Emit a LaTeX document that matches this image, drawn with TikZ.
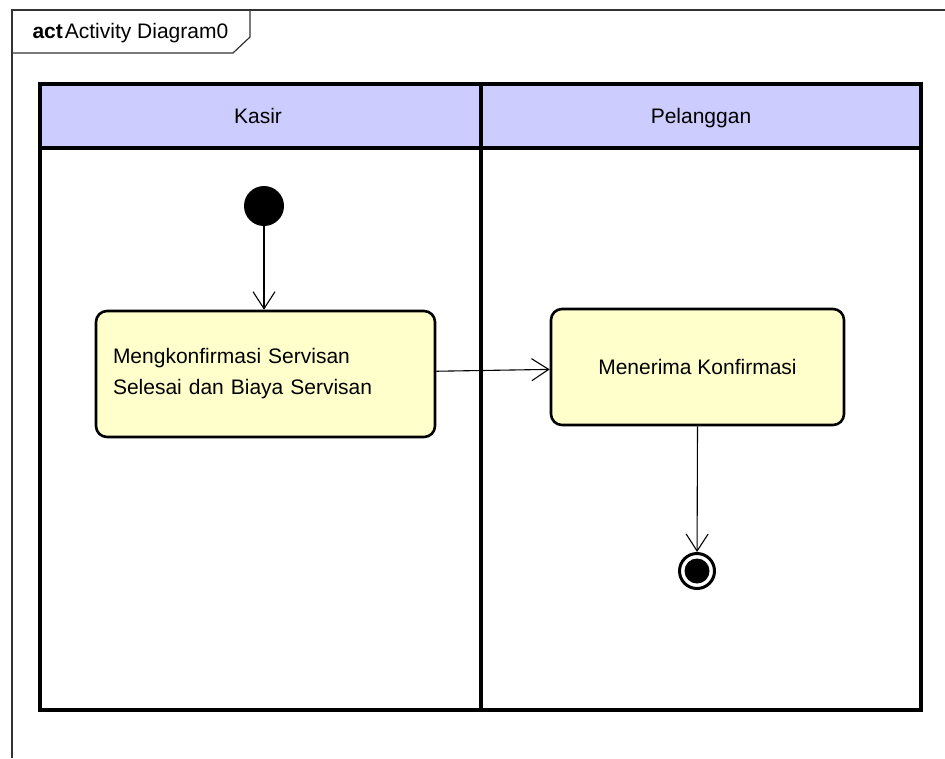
\documentclass[tikz,border=0pt]{standalone}
\usepackage{fontspec}
\setmainfont{Liberation Sans}
\usetikzlibrary{arrows.meta}
\definecolor{laneblue}{RGB}{204,204,255}
\definecolor{actyellow}{RGB}{255,255,204}
\tikzset{
	lane/.style={draw=black,line width=3.4pt},
	header/.style={lane,fill=laneblue},
	lanetext/.style={anchor=base,font=\fontsize{21}{26}\selectfont},
	action/.style={draw,line width=2.6pt,rounded corners=11pt,fill=actyellow,font=\fontsize{21}{31}\selectfont},
	flow/.style={line width=1.1pt,-{Straight Barb[length=17pt,width=22pt,line width=1.1pt]}}
}
\begin{document}
\begin{tikzpicture}[x=1pt,y=-1pt]
			\useasboundingbox (0,0) rectangle (945,758);
			\draw[line width=1.2pt,black!80] (12,758)--(12,10)--(945,10);
			\draw[line width=1.2pt,black!80] (12,53)--(233,53)--(250,37)--(250,10);
			\node[anchor=base west,font=\fontsize{21}{26}\selectfont] (title) at (29,38) {\textbf{act}\hspace{2pt}Activity Diagram0};
			\draw[header] (40,84) rectangle (481,148);
			\draw[header] (481,84) rectangle (921,148);
			\draw[lane] (40,148) rectangle (481,710);
			\draw[lane] (481,148) rectangle (921,710);
			\node[lanetext] (kasir) at (258,123) {Kasir};
			\node[lanetext] (pelanggan) at (701,123) {Pelanggan};
			\node[circle,fill,minimum size=40pt,inner sep=0pt] (start) at (264,206) {};
			\node[action,minimum width=339pt,minimum height=126pt,text width=305pt,inner xsep=17pt,align=left] (act1) at (265.5,374) {Mengkonfirmasi Servisan\\Selesai dan Biaya Servisan};
			\node[action,minimum width=293pt,minimum height=116pt] (act2) at (697.5,367) {Menerima Konfirmasi};
			\node[circle,draw,line width=3pt,minimum size=35pt,inner sep=0pt] (end) at (697,571) {};
			\fill (end) circle (12.5);
			\draw[flow] (start) -- (start |- act1.north);
			\draw[flow] (act1) -- (act2);
			\draw[flow] (act2.south) -- (end);
	\end{tikzpicture}
\end{document}
